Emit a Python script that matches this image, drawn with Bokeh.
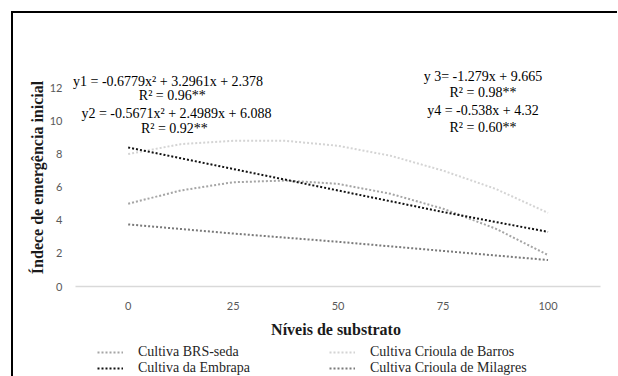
from bokeh.plotting import figure
from bokeh.layouts import column
from bokeh.models import (FixedTicker, Label, Legend, LegendItem, Range1d, InlineStyleSheet)
from bokeh.embed import file_html
from bokeh.resources import INLINE

# ---- data ----
x_levels = [0, 25, 50, 75, 100]
tick_labels = ["0", "25", "50", "75", "100"]
y_ticks = [0, 2, 4, 6, 8, 10, 12]

x_curve = [0, 12.5, 25, 37.5, 50, 62.5, 75, 87.5, 100]
brs_seda = [5.0, 5.8, 6.3, 6.4, 6.2, 5.6, 4.7, 3.5, 1.9]
crioula_barros = [8.0, 8.6, 8.8, 8.8, 8.5, 7.9, 7.0, 5.9, 4.45]
embrapa = [8.4, 7.1, 5.8, 4.5, 3.3]
crioula_milagres = [3.75, 3.2, 2.7, 2.15, 1.6]

series_names = ["Cultiva BRS-seda", "Cultiva Crioula de Barros",
                "Cultiva da Embrapa", "Cultiva Crioula de Milagres"]
series_colors = ["#a5a5a5", "#d4d4d4", "#111111", "#7a7a7a"]

eq_left = ["y1 = -0.6779x\u00b2 + 3.2961x + 2.378", "R\u00b2 = 0.96**",
           "y2 = -0.5671x\u00b2 + 2.4989x + 6.088", "R\u00b2 = 0.92**"]
eq_right = ["y 3= -1.279x + 9.665", "R\u00b2 = 0.98**",
            "y4 = -0.538x + 4.32", "R\u00b2 = 0.60**"]

serif = "Liberation Serif"
W = 604
H1, H2 = 327, 36
ML, MR = 58, 17
dash = "2 2"
no_scroll = InlineStyleSheet(css=":host, div, svg, canvas { overflow: hidden !important; outline: none !important; }")


def bare(fig):
    fig.outline_line_color = None
    for prop in ("border_line_color", "border_line_alpha"):
        if hasattr(fig, prop):
            setattr(fig, prop, None if prop.endswith("color") else 0)
    fig.xgrid.visible = False
    fig.ygrid.visible = False
    fig.background_fill_color = "white"
    fig.border_fill_color = "white"
    fig.styles = {"overflow": "hidden"}
    fig.stylesheets = [no_scroll]
    return fig


# ---- main chart ----
p = bare(figure(width=W, height=H1, output_backend="svg", toolbar_location=None,
                x_range=Range1d(-13.5, 112.5), y_range=Range1d(0, 13.17),
                min_border_left=ML, min_border_right=MR,
                min_border_top=55, min_border_bottom=53))

left_pos = [(9.5, 12.41), (10.5, 11.53), (11.5, 10.47), (11.0, 9.56)]
right_pos = [(84.5, 12.69), (84.5, 11.73), (84.5, 10.65), (84.5, 9.62)]
for txt, (lx, ly) in zip(eq_left + eq_right, left_pos + right_pos):
    p.add_layout(Label(x=lx, y=ly, text=txt, text_align="center",
                       text_baseline="middle", text_font=serif,
                       text_font_size="14px", text_color="#000000"))

p.xaxis.ticker = FixedTicker(ticks=x_levels)
p.xaxis.bounds = (-12.5, 112.5)
p.xaxis.major_label_overrides = {v: t for v, t in zip(x_levels, tick_labels)}
p.xaxis.axis_line_color = "#d9d9d9"
p.xaxis.axis_line_width = 1.5
p.xaxis.major_tick_line_color = None
p.xaxis.minor_tick_line_color = None
p.xaxis.major_label_standoff = 9
p.xaxis.major_label_text_font = "Lato"
p.xaxis.major_label_text_font_size = "11px"
p.xaxis.major_label_text_color = "#595959"
p.xaxis.axis_label = "Níveis de substrato"
p.xaxis.axis_label_text_font = serif
p.xaxis.axis_label_text_font_style = "bold"
p.xaxis.axis_label_text_font_size = "16px"
p.xaxis.axis_label_text_color = "#1a1a1a"
p.xaxis.axis_label_standoff = 8

p.yaxis.ticker = FixedTicker(ticks=y_ticks)
p.yaxis.bounds = (0, 12)
p.yaxis.axis_line_color = None
p.yaxis.major_tick_line_color = None
p.yaxis.minor_tick_line_color = None
p.yaxis.major_label_standoff = 3
p.yaxis.major_label_text_font = "Lato"
p.yaxis.major_label_text_font_size = "11px"
p.yaxis.major_label_text_color = "#595959"
p.yaxis.axis_label = "Índece de emergência inicial"
p.yaxis.axis_label_text_font = serif
p.yaxis.axis_label_text_font_style = "bold"
p.yaxis.axis_label_text_font_size = "16px"
p.yaxis.axis_label_text_color = "#1a1a1a"
p.yaxis.axis_label_standoff = 1

p.line(x_curve, brs_seda, line_color=series_colors[0], line_width=2, line_dash=dash)
p.line(x_curve, crioula_barros, line_color=series_colors[1], line_width=2, line_dash=dash)
p.line(x_levels, embrapa, line_color=series_colors[2], line_width=2, line_dash=dash)
p.line(x_levels, crioula_milagres, line_color=series_colors[3], line_width=2, line_dash=dash)

# ---- legend strip (series drawn out of view; only their legend keys show) ----
p2 = bare(figure(width=W, height=H2, output_backend="svg", toolbar_location=None,
                 x_range=Range1d(-13.5, 112.5), y_range=Range1d(-30, -20),
                 x_axis_type=None, y_axis_type=None,
                 min_border_left=ML, min_border_right=MR,
                 min_border_top=0, min_border_bottom=0))
leg_r = [
    p2.line(x_curve, brs_seda, line_color=series_colors[0], line_width=2, line_dash=dash),
    p2.line(x_curve, crioula_barros, line_color=series_colors[1], line_width=2, line_dash=dash),
    p2.line(x_levels, embrapa, line_color=series_colors[2], line_width=2, line_dash=dash),
    p2.line(x_levels, crioula_milagres, line_color=series_colors[3], line_width=2, line_dash=dash),
]


def make_legend(items, x):
    return Legend(items=items, location=(x, 0), orientation="vertical",
                  padding=0, margin=0, spacing=0, border_line_color=None,
                  background_fill_alpha=0, glyph_width=26, glyph_height=16,
                  label_height=16, label_standoff=15,
                  label_text_font=serif, label_text_font_size="14px",
                  label_text_color="#262626")


p2.add_layout(make_legend([LegendItem(label=series_names[0], renderers=[leg_r[0]]),
                           LegendItem(label=series_names[2], renderers=[leg_r[2]])], 26),
              "center")
p2.add_layout(make_legend([LegendItem(label=series_names[1], renderers=[leg_r[1]]),
                           LegendItem(label=series_names[3], renderers=[leg_r[3]])], 258),
              "center")

layout = column(p, p2, spacing=0, width=W + 2, height=H1 + H2 + 2)
layout.styles = {"border-style": "solid none none solid",
                 "border-width": "2px 0px 0px 2px",
                 "border-color": "black",
                 "overflow": "hidden",
                 "margin-left": "11px", "margin-top": "11px"}
layout.stylesheets = [no_scroll]

open("out.html", "w").write(file_html(layout, INLINE))
